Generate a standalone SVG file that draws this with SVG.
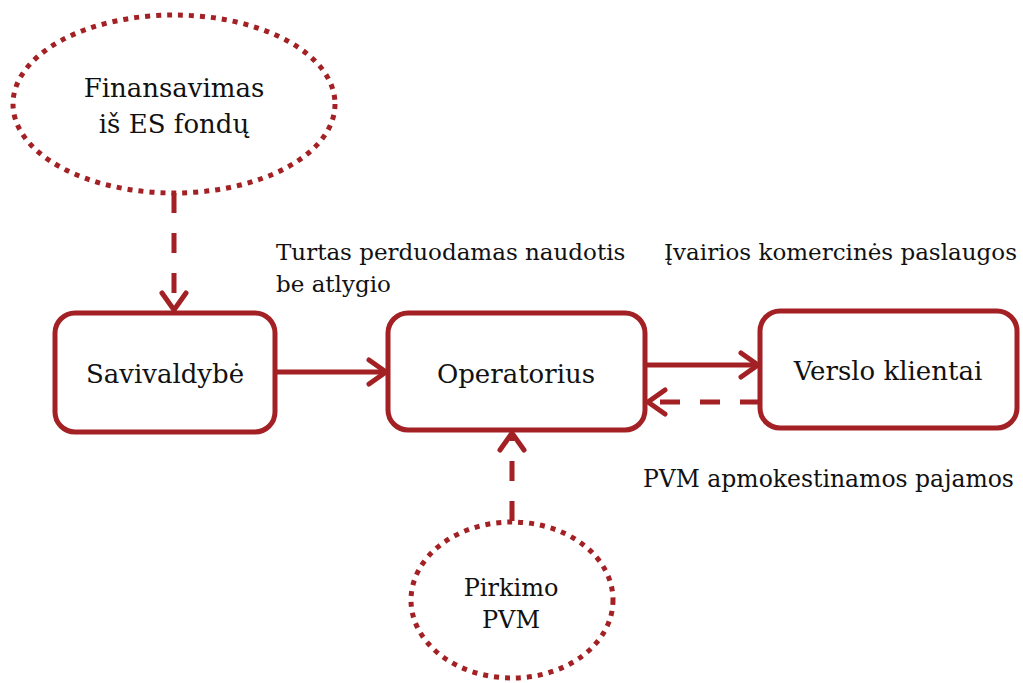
<svg xmlns="http://www.w3.org/2000/svg" width="1023" height="683" viewBox="0 0 1023 683">
<defs>
<style>
.node{fill:#fff;stroke:#A32125;stroke-width:5}
.dot{fill:#fff;stroke:#A32125;stroke-width:5;stroke-dasharray:5 6}
.line{fill:none;stroke:#A32125;stroke-width:5}
.dash{fill:none;stroke:#A32125;stroke-width:5;stroke-dasharray:20 20}
.head{fill:none;stroke:#A32125;stroke-width:5;stroke-linecap:round;stroke-linejoin:miter}
text{font-family:"DejaVu Serif","Liberation Serif",serif;fill:#111;font-size:23px}
.c{text-anchor:middle}
.n{font-size:26px}
.p{font-size:24px}
.l2{font-size:23.5px}
</style>
</defs>
<rect width="1023" height="683" fill="#fff"/>
<g id="connectors">
<path class="dash" d="M174,193 V310"/>
<path class="head" d="M162,293 L174,310 L186,293"/>
<path class="line" d="M275,372 H386"/>
<path class="head" d="M369,360 L386,372 L369,384"/>
<path class="line" d="M645,365 H758"/>
<path class="head" d="M741,353 L758,365 L741,377"/>
<path class="dash" d="M760,402 H648"/>
<path class="head" d="M665,390 L648,402 L665,414"/>
<path class="dash" d="M512,521 V433"/>
<path class="head" d="M500,450 L512,433 L524,450"/>
</g>
<g id="finansavimas">
<ellipse class="dot" cx="174" cy="104" rx="161" ry="89"/>
<text class="c n" x="174" y="97">Finansavimas</text>
<text class="c n" x="174" y="133">iš ES fondų</text>
</g>
<g id="savivaldybe">
<rect class="node" x="55" y="313" width="220" height="119" rx="20"/>
<text class="c n" x="165" y="383">Savivaldybė</text>
</g>
<g id="operatorius">
<rect class="node" x="388" y="313" width="257" height="117" rx="20"/>
<text class="c n" x="516" y="383">Operatorius</text>
</g>
<g id="verslo">
<rect class="node" x="760" y="311" width="257" height="117" rx="20"/>
<text class="c n" x="888" y="380">Verslo klientai</text>
</g>
<g id="pirkimo">
<ellipse class="dot" cx="512" cy="600" rx="101" ry="78"/>
<text class="c p" x="511" y="596">Pirkimo</text>
<text class="c p" x="511" y="628">PVM</text>
</g>
<g id="labels">
<text x="276" y="260">Turtas perduodamas naudotis</text>
<text x="276" y="292">be atlygio</text>
<text x="664" y="260">Įvairios komercinės paslaugos</text>
<text class="l2" x="643" y="487">PVM apmokestinamos pajamos</text>
</g>
</svg>
